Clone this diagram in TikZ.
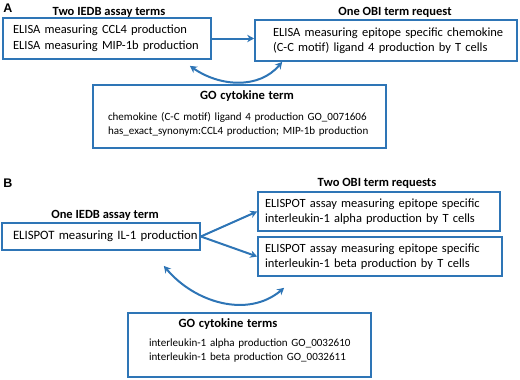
\documentclass[tikz,border=0pt]{standalone}
\usepackage{fontspec}
\setmainfont{Carlito}
\newfontfamily\panelfont{Liberation Sans}
\usetikzlibrary{arrows.meta}
\definecolor{boxblue}{RGB}{46,117,182}

\begin{document}
\begin{tikzpicture}[x=1pt, y=-1pt,
    box/.style={draw=boxblue, line width=1.7pt, inner sep=0pt, align=left, fill=white},
    termbox/.style={box, font=\fontsize{12.5}{15}\selectfont},
    gobox/.style={box, font=\fontsize{11.05}{14}\selectfont},
    heading/.style={font=\bfseries\fontsize{12.5}{14}\selectfont},
    panel/.style={font=\panelfont\bfseries\fontsize{12.5}{14}\selectfont},
    arrow/.style={-{Stealth[length=7pt, width=7.5pt]}, draw=boxblue, line width=2pt},
    biarrow/.style={arrow, {Stealth[length=7pt, width=7.5pt]}-{Stealth[length=7pt, width=7.5pt]}}
]
\useasboundingbox (0,0) rectangle (520,380);

% Panel A
\node[panel] (labA) at (8, 8) {A};
\node[termbox, minimum width=208pt, minimum height=41pt, text width=188pt,
      font=\fontsize{12.5}{16}\selectfont] (iedbA) at (107, 38.5)
    {\mbox{ELISA measuring CCL4 production}\\\mbox{ELISA measuring MIP-1b production}};
\node[termbox, minimum width=262pt, minimum height=41pt, text width=226pt] (obiA) at (386, 40.5)
    {\mbox{ELISA measuring epitope specific chemokine}\\\mbox{(C-C motif) ligand 4 production by T cells}};
\node[gobox, minimum width=293pt, minimum height=63pt, text width=263pt] (goA) at (239.5, 116.5)
    {\makebox[\linewidth]{\hspace{15pt}\bfseries\fontsize{12.6}{14}\selectfont GO cytokine term}\\[7pt]
     \mbox{chemokine (C-C motif) ligand 4 production GO\_0071606}\\
     \mbox{has\_exact\_synonym:CCL4 production; MIP-1b production}\rule[-7pt]{0pt}{7pt}};

\node[heading] (iedbAhead) at (109, 12) {Two IEDB assay terms};
\node[heading] (obiAhead) at (395, 12) {One OBI term request};

\draw[arrow] (iedbA.east) -- (iedbA.east -| obiA.west);
\draw[biarrow] ([xshift=-22pt, yshift=-6pt]iedbA.south east)
    to[out=-35, in=-130] ([xshift=28pt]obiA.south west);

% Panel B
\node[panel] (labB) at (8, 183) {B};
\node[termbox, minimum width=198pt, minimum height=27pt, text width=176pt,
      font=\fontsize{12.75}{15}\selectfont] (iedbB) at (101, 236.5)
    {\mbox{ELISPOT measuring IL-1 production}};
\node[termbox, minimum width=242pt, minimum height=39pt, text width=228pt] (obiBalpha) at (379, 211.5)
    {\mbox{ELISPOT assay measuring epitope specific}\\\mbox{interleukin-1 alpha production by T cells}};
\node[termbox, minimum width=244pt, minimum height=39pt, text width=230pt] (obiBbeta) at (380, 256.5)
    {\mbox{ELISPOT assay measuring epitope specific}\\\mbox{interleukin-1 beta production by T cells}};
\node[gobox, minimum width=243pt, minimum height=64pt, text width=201pt] (goB) at (249.5, 345)
    {\makebox[\linewidth]{\hspace{-43pt}\bfseries\fontsize{12.6}{14}\selectfont GO cytokine terms}\\[5pt]
     \mbox{interleukin-1 alpha production GO\_0032610}\\
     \mbox{interleukin-1 beta production GO\_0032611}\rule[-10pt]{0pt}{10pt}};

\node[heading] (obiBhead) at (377, 183) {Two OBI term requests};
\node[heading] (iedbBhead) at (105, 215) {One IEDB assay term};

\draw[arrow] (iedbB.east) -- (obiBalpha.west);
\draw[arrow] (iedbB.east) -- (obiBbeta.west);
\draw[biarrow] ([xshift=-37pt, yshift=-15pt]iedbB.south east)
    to[out=-50, in=-140] ([xshift=27pt, yshift=-11pt]obiBbeta.south west);

\end{tikzpicture}
\end{document}
